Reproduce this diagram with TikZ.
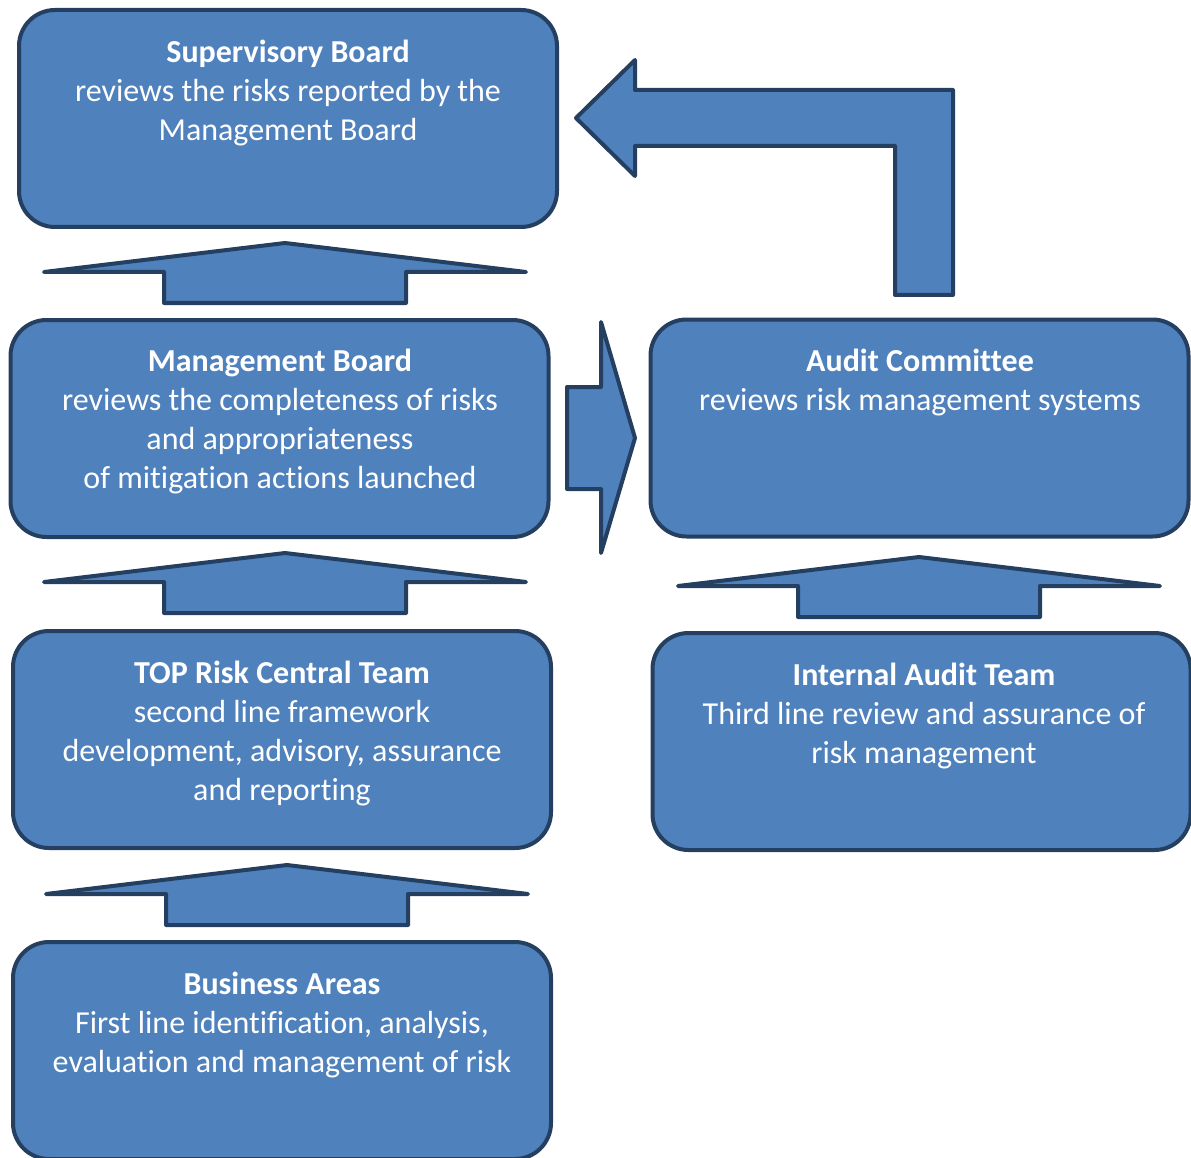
\documentclass[tikz,border=0pt]{standalone}
\usepackage{fontspec}
\setmainfont{Carlito}[Ligatures={NoCommon,NoContextual,NoRare,NoDiscretionary}]
\definecolor{boxfill}{HTML}{4F81BD}
\definecolor{boxline}{HTML}{243F60}
\tikzset{
  blk/.style={fill=boxfill, draw=boxline, line width=4pt, line join=round},
  box/.style={blk, rectangle, rounded corners=36pt, minimum width=538pt, minimum height=217pt, inner sep=0pt},
  txt/.style={text=white, inner sep=0pt, anchor=base, font=\fontsize{32}{38.9}\selectfont},
  uparrow/.pic={\path[blk] (0,2) -- (241,31) -- (121,31) -- (121,62) -- (-121,62) -- (-121,31) -- (-241,31) -- cycle;}
}
\newcommand{\lines}[1]{\begin{tabular}[t]{@{}c@{}}#1\end{tabular}}
\begin{document}
\begin{tikzpicture}[x=1pt,y=-1pt]
\useasboundingbox (0,0) rectangle (1191,1158);
\clip (0,0) rectangle (1191,1158);
% boxes
\node[box] (sb) at (288,118.5) {};
\node[box] (mb) at (279.5,428.5) {};
\node[box] (tr) at (282,739.5) {};
\node[box] (ba) at (282,1050.5) {};
\node[box] (ac) at (919.5,428) {};
\node[box] (ia) at (921.5,741.5) {};
% texts
\node[txt] (sbt) at (288,62.5) {\lines{\textbf{Supervisory Board}\\reviews the risks reported by the\\Management Board}};
\node[txt] (mbt) at (280,371.5) {\lines{\textbf{Management Board}\\reviews the completeness of risks\\and appropriateness\\of mitigation actions launched}};
\node[txt] (trt) at (282,683.5) {\lines{\textbf{TOP Risk Central Team}\\second line framework\\development, advisory, assurance\\and reporting}};
\node[txt] (bat) at (282,994.5) {\lines{\textbf{Business Areas}\\First line identification, analysis,\\evaluation and management of risk}};
\node[txt] (act) at (920,371.5) {\lines{\textbf{Audit Committee}\\reviews risk management systems}};
\node[txt] (iat) at (924,685.5) {\lines{\textbf{Internal Audit Team}\\Third line review and assurance of\\risk management}};
% up arrows
\pic at (285,241) {uparrow};
\pic at (285,551) {uparrow};
\pic at (287,863) {uparrow};
\pic at (919,555) {uparrow};
% right arrow
\path[blk] (567,387) -- (601,387) -- (601,322) -- (635,438) -- (601,553) -- (601,489) -- (567,489) -- cycle;
% bent arrow
\path[blk] (576,118) -- (635,60) -- (635,90) -- (953,90) -- (953,295) -- (895,295) -- (895,146) -- (635,146) -- (635,176) -- cycle;
\end{tikzpicture}
\end{document}
